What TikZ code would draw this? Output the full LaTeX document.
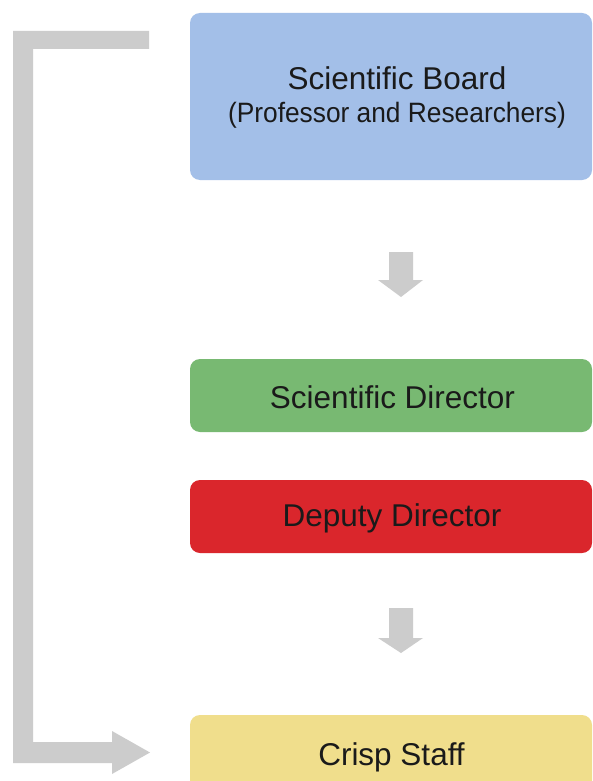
\documentclass[tikz,border=0pt]{standalone}
\usepackage{fontspec}
\setmainfont{Liberation Sans}
\usepackage{graphicx}
\definecolor{boardblue}{HTML}{A3BFE8}
\definecolor{dirgreen}{HTML}{78B972}
\definecolor{depred}{HTML}{DA262C}
\definecolor{staffyellow}{HTML}{F0DE8C}
\definecolor{arrowgray}{HTML}{CCCCCC}
\definecolor{txt}{HTML}{1A1A1A}
\tikzset{
  boxnode/.style={rectangle, rounded corners=10pt, draw=none, inner sep=0pt, minimum width=402pt},
  lbl/.style={anchor=base, inner sep=0pt, text=txt, font=\fontsize{31.5}{36}\selectfont},
  sublbl/.style={anchor=base, inner sep=0pt, text=txt, font=\fontsize{28}{32}\selectfont},
  blockarrow/.style={fill=arrowgray, draw=none}
}
\begin{document}
\begin{tikzpicture}[x=1pt, y=-1pt]
\useasboundingbox (0,0) rectangle (592,781);
\fill[white] (0,0) rectangle (592,781);
% boxes
\node[boxnode, fill=boardblue, minimum height=167pt] (board) at (391,96.5) {};
\node[boxnode, fill=dirgreen, minimum height=73pt] (sdir) at (391,395.5) {};
\node[boxnode, fill=depred, minimum height=73pt] (ddir) at (391,516.5) {};
\node[boxnode, fill=staffyellow, minimum height=90pt] (staff) at (391,760) {};
% labels
\node[lbl] (tboard) at (397,90) {Scientific Board};
\node[sublbl] (tboard2) at (397,123) {\scalebox{0.94}[1]{(Professor and Researchers)}};
\node[lbl] (tsdir) at (392.5,408) {Scientific Director};
\node[lbl] (tddir) at (392,526) {Deputy Director};
\node[lbl] (tstaff) at (391.5,765) {Crisp Staff};
% down arrows
\coordinate (a1) at (401,252);
\coordinate (a2) at (401,608);
\fill[blockarrow] (a1) ++(-12,0) -- ++(24,0) -- ++(0,28) -- ++(10,0) -- (401,297) -- (378,280) -- (389,280) -- cycle;
\fill[blockarrow] (a2) ++(-12,0) -- ++(24,0) -- ++(0,30) -- ++(10,0) -- (401,653) -- (378,638) -- (389,638) -- cycle;
% feedback bracket arrow
\fill[blockarrow] (13,31) -- (149,31) -- (149,49) -- (33,49) -- (33,742) -- (112,742) -- (112,731) -- (150,752.5) -- (112,774) -- (112,763) -- (13,763) -- cycle;
\end{tikzpicture}
\end{document}
